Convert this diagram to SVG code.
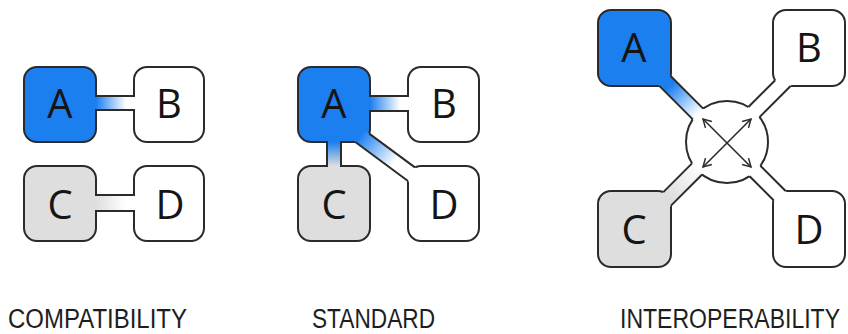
<svg xmlns="http://www.w3.org/2000/svg" width="848" height="334" viewBox="0 0 848 334">
<style>
.box{stroke:#2b2b2b;stroke-width:2}
.blue{fill:#1b7ff0}
.gray{fill:#dedede}
.white{fill:#ffffff}
.lt{font-family:"Open Sans","DejaVu Sans",sans-serif;font-size:40px;fill:#151515;text-anchor:middle}
.cap{font-family:"Liberation Sans",Arial,sans-serif;font-size:22.5px;fill:#1e1e1e}
.edge{stroke:#2b2b2b;stroke-width:2;fill:none}
.arr{stroke:#2b2b2b;stroke-width:1.6;fill:none}
</style>
<defs>
<linearGradient id="gAB1" gradientUnits="userSpaceOnUse" x1="96" y1="0" x2="126" y2="0"><stop offset="0" stop-color="#1b7ff0"/><stop offset="1" stop-color="#ffffff"/></linearGradient>
<linearGradient id="gCD1" gradientUnits="userSpaceOnUse" x1="96" y1="0" x2="126" y2="0"><stop offset="0" stop-color="#dedede"/><stop offset="1" stop-color="#ffffff"/></linearGradient>
<linearGradient id="gAB2" gradientUnits="userSpaceOnUse" x1="370" y1="0" x2="400" y2="0"><stop offset="0" stop-color="#1b7ff0"/><stop offset="1" stop-color="#ffffff"/></linearGradient>
<linearGradient id="gAC2" gradientUnits="userSpaceOnUse" x1="0" y1="142" x2="0" y2="166"><stop offset="0" stop-color="#1b7ff0"/><stop offset="1" stop-color="#dedede"/></linearGradient>
<linearGradient id="gAD2" gradientUnits="userSpaceOnUse" x1="360" y1="136" x2="395" y2="162"><stop offset="0" stop-color="#1b7ff0"/><stop offset="1" stop-color="#ffffff"/></linearGradient>
<linearGradient id="gA3" gradientUnits="userSpaceOnUse" x1="670" y1="86" x2="698" y2="114"><stop offset="0" stop-color="#1b7ff0"/><stop offset="1" stop-color="#ffffff"/></linearGradient>
<linearGradient id="gC3" gradientUnits="userSpaceOnUse" x1="668" y1="196" x2="700" y2="164"><stop offset="0" stop-color="#dedede"/><stop offset="1" stop-color="#ffffff"/></linearGradient>
<marker id="ah" viewBox="-1 -1 12 12" refX="9" refY="5" markerWidth="12" markerHeight="12" markerUnits="userSpaceOnUse" orient="auto-start-reverse">
<path d="M1,0.5 L9,5 L1,9.5" fill="none" stroke="#2b2b2b" stroke-width="1.5"/>
</marker>
</defs>

<g id="compat-A"><rect class="box blue" x="24" y="67" width="72" height="75" rx="13"/><text class="lt" x="60" y="118">A</text></g>
<g id="compat-B"><rect class="box white" x="134" y="67" width="70" height="75" rx="13"/><text class="lt" x="169" y="118">B</text></g>
<g id="compat-C"><rect class="box gray" x="24" y="166" width="72" height="75" rx="13"/><text class="lt" x="60" y="219">C</text></g>
<g id="compat-D"><rect class="box white" x="134" y="166" width="70" height="75" rx="13"/><text class="lt" x="170" y="219">D</text></g>

<g id="std-A"><rect class="box blue" x="298" y="67" width="72" height="75" rx="13"/><text class="lt" x="334" y="118">A</text></g>
<g id="std-B"><rect class="box white" x="408" y="67" width="71" height="75" rx="13"/><text class="lt" x="444" y="118">B</text></g>
<g id="std-C"><rect class="box gray" x="298" y="166" width="72" height="75" rx="13"/><text class="lt" x="334" y="219">C</text></g>
<g id="std-D"><rect class="box white" x="408" y="166" width="71" height="75" rx="13"/><text class="lt" x="444" y="219">D</text></g>

<g id="int-A"><rect class="box blue" x="598" y="10" width="73" height="76" rx="13"/><text class="lt" x="634" y="62">A</text></g>
<g id="int-B"><rect class="box white" x="773" y="10" width="72" height="76" rx="13"/><text class="lt" x="809" y="62">B</text></g>
<g id="int-C"><rect class="box gray" x="598" y="191" width="73" height="76" rx="13"/><text class="lt" x="634" y="244">C</text></g>
<g id="int-D"><rect class="box white" x="773" y="191" width="72" height="76" rx="13"/><text class="lt" x="809" y="244">D</text></g>

<g id="int-hub"><circle cx="727" cy="142" r="41" fill="#ffffff" stroke="#2b2b2b" stroke-width="2"/></g>

<g id="connectors">
<rect x="93" y="96" width="44" height="14" fill="url(#gAB1)"/>
<path class="edge" d="M95,96 H135 M95,110 H135"/>
<rect x="93" y="195" width="44" height="16" fill="url(#gCD1)"/>
<path class="edge" d="M95,195 H135 M95,211 H135"/>
<rect x="367" y="96" width="44" height="15" fill="url(#gAB2)"/>
<path class="edge" d="M369,96 H409 M369,111 H409"/>
<rect x="327" y="139" width="14" height="30" fill="url(#gAC2)"/>
<path class="edge" d="M327,141 V167 M341,141 V167"/>
<polygon points="350,138.05 414.3,185.65 423.2,173.6 358.9,126" fill="url(#gAD2)"/>
<path class="edge" d="M355.3,142 L408,181 M369.2,133.6 L414.9,167.4"/>
<polygon points="706.3,111.7 660.3,65.7 649.7,76.3 695.7,122.3" fill="url(#gA3)"/>
<path class="edge" d="M703.2,108.6 L670.6,76 M692.8,119.4 L659.3,85.9"/>
<polygon points="754.3,122.3 800.3,76.3 789.7,65.7 743.7,111.7" fill="#ffffff"/>
<path class="edge" d="M759.5,117.1 L790.6,86 M748.4,107 L775.2,80.2"/>
<polygon points="706.3,170.3 660.3,216.3 649.7,205.7 695.7,159.7" fill="url(#gC3)"/>
<path class="edge" d="M702.1,174.5 L671,205.6 M692,163.4 L663.3,192.1"/>
<polygon points="754.3,159.7 800.3,205.7 789.7,216.3 743.7,170.3" fill="#ffffff"/>
<path class="edge" d="M760.4,165.8 L785.6,191 M749.6,176.2 L773.6,200.2"/>
</g>

<g id="int-hub-arrows">
<line class="arr" x1="703" y1="119" x2="751" y2="167" marker-start="url(#ah)" marker-end="url(#ah)"/>
<line class="arr" x1="751" y1="119" x2="703" y2="167" marker-start="url(#ah)" marker-end="url(#ah)"/>
</g>

<g id="labels">
<text class="cap" transform="translate(8,328) scale(1,1.2)" x="0" y="0" textLength="179" lengthAdjust="spacingAndGlyphs">COMPATIBILITY</text>
<text class="cap" transform="translate(312,328) scale(1,1.2)" x="0" y="0" textLength="123" lengthAdjust="spacingAndGlyphs">STANDARD</text>
<text class="cap" transform="translate(620,328) scale(1,1.2)" x="0" y="0" textLength="220" lengthAdjust="spacingAndGlyphs">INTEROPERABILITY</text>
</g>
</svg>
